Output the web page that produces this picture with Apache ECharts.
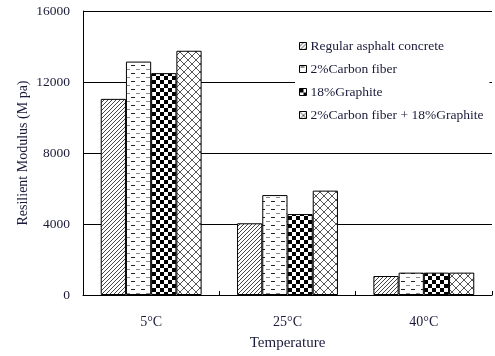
<!DOCTYPE html>
<html><head><meta charset="utf-8">
<script src="https://cdn.jsdelivr.net/npm/echarts@6/dist/echarts.min.js"></script>
<style>html,body{margin:0;padding:0;background:#fff}#c{width:495px;height:356px}</style>
</head><body><div id="c"></div>
<script>
const categories = ['5°C', '25°C', '40°C'];
const seriesNames = ['Regular asphalt concrete', '2%Carbon fiber', '18%Graphite', '2%Carbon fiber + 18%Graphite'];
const regular = [11050, 4040, 1070];
const carbon = [13150, 5630, 1260];
const graphite = [12500, 4560, 1260];
const combined = [13760, 5880, 1260];
const yTicks = [0, 4000, 8000, 12000, 16000];

function mk(w, h, draw) {
  const c = document.createElement('canvas');
  c.width = w; c.height = h;
  const g = c.getContext('2d');
  g.fillStyle = '#fff'; g.fillRect(0, 0, w, h);
  draw(g);
  return { image: c, repeat: 'repeat' };
}
const pHatch = mk(4, 4, g => {
  g.strokeStyle = '#444'; g.lineWidth = 1;
  g.beginPath();
  g.moveTo(-1, 5); g.lineTo(5, -1);
  g.moveTo(-1, 1); g.lineTo(1, -1);
  g.moveTo(3, 5); g.lineTo(5, 3);
  g.stroke();
});
const pDash = mk(10, 8, g => {
  g.fillStyle = '#222'; g.fillRect(1, 1, 4, 1);
  g.fillStyle = '#888'; g.fillRect(6, 5, 4, 1);
});
const pCheck = mk(8, 8, g => {
  g.fillStyle = '#000';
  g.fillRect(0, 0, 4, 4); g.fillRect(4, 4, 4, 4);
});
const pDiamond = mk(8, 8, g => {
  g.strokeStyle = '#555'; g.lineWidth = 1;
  g.beginPath();
  g.moveTo(0, 0); g.lineTo(8, 8);
  g.moveTo(8, 0); g.lineTo(0, 8);
  g.stroke();
});
const patterns = [pHatch, pDash, pCheck, pDiamond];
const values = [regular, carbon, graphite, combined];

const chart = echarts.init(document.getElementById('c'));
const font = '"Liberation Serif", "Times New Roman", serif';
const tc = '#1a1a3a';
chart.setOption({
  animation: false,
  textStyle: { fontFamily: font },
  grid: { left: 83, right: 3, top: 11, bottom: 61 },
  legend: {
    orient: 'vertical', left: 295, top: 37,
    padding: [2, 6, 2, 4], itemGap: 9,
    itemWidth: 7, itemHeight: 7, icon: 'rect',
    backgroundColor: '#fff', z: 10,
    textStyle: { fontFamily: font, fontSize: 13.5, color: tc, padding: [0, 0, 0, -1] },
    data: seriesNames.map((n, i) => ({ name: n, icon: 'rect', itemStyle: { color: patterns[i], borderColor: '#000', borderWidth: 1 } }))
  },
  xAxis: {
    type: 'category', data: categories,
    name: 'Temperature', nameLocation: 'middle', nameGap: 41,
    nameTextStyle: { fontFamily: font, fontSize: 15, color: tc },
    axisLine: { lineStyle: { color: '#000', width: 1 } },
    axisTick: { show: true, inside: true, length: 4, lineStyle: { color: '#000' } },
    axisLabel: { margin: 20, fontFamily: font, fontSize: 14, color: tc }
  },
  yAxis: {
    type: 'value', min: 0, max: 16000, interval: 4000,
    name: 'Resilient Modulus (M pa)', nameLocation: 'middle', nameGap: 53,
    nameMoveOverlap: false,
    nameTextStyle: { fontFamily: font, fontSize: 14, color: tc },
    axisLine: { show: true, lineStyle: { color: '#000', width: 1 } },
    axisTick: { show: false },
    axisLabel: { margin: 13, fontFamily: font, fontSize: 13.5, color: tc,
      formatter: v => yTicks.includes(v) ? String(v) : '' },
    splitLine: { show: true, lineStyle: { color: '#000', width: 1 } }
  },
  series: seriesNames.map((n, i) => ({
    name: n, type: 'bar', data: values[i],
    barGap: '0%', barCategoryGap: '26%',
    itemStyle: { color: patterns[i], borderColor: '#000', borderWidth: 1 }
  }))
});
</script></body></html>
